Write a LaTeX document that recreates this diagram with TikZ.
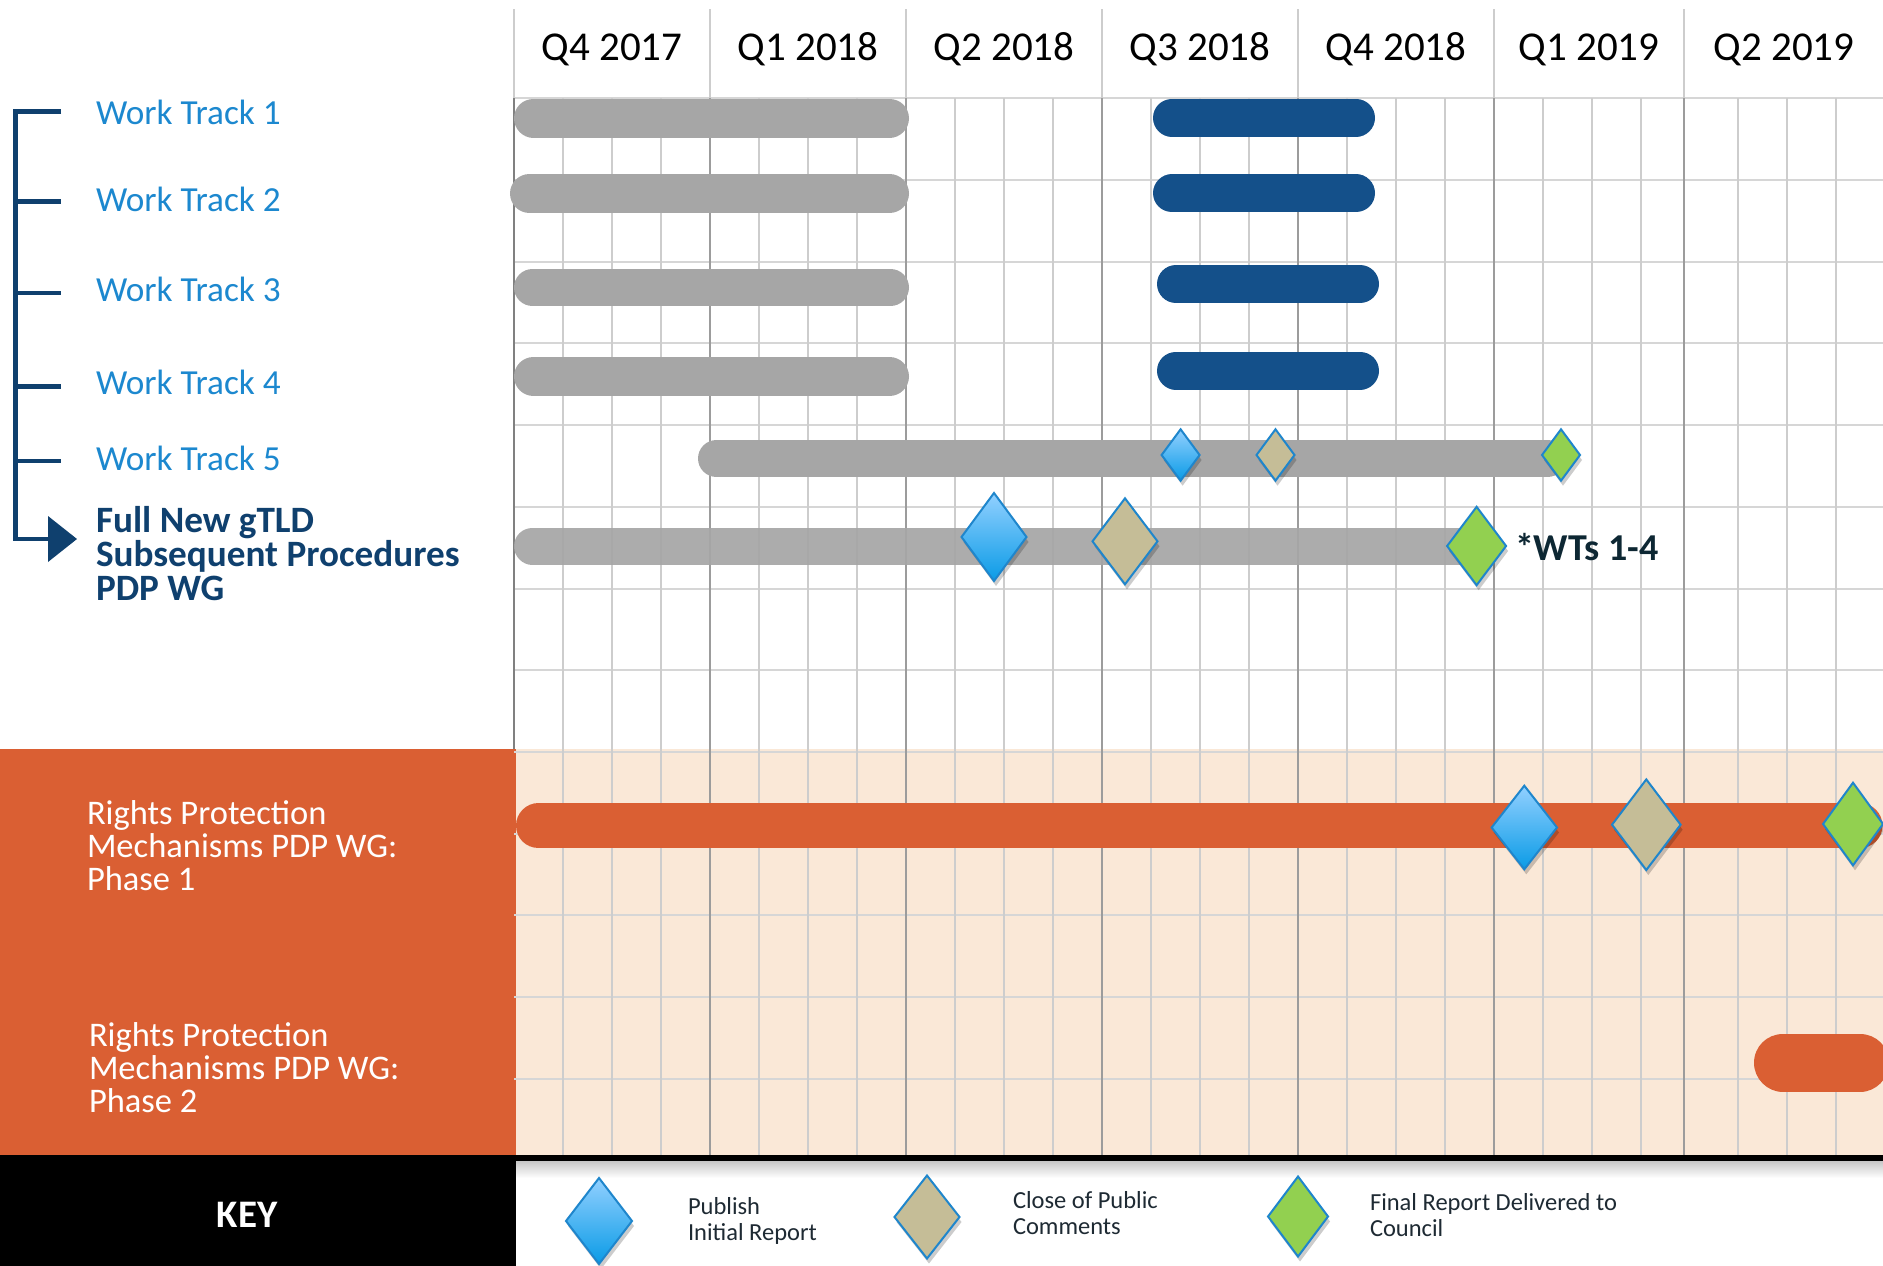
\documentclass[tikz,border=0pt]{standalone}
\usepackage{fontspec}
\setmainfont{Carlito}
\usetikzlibrary{calc}
\definecolor{wtblue}{HTML}{1C88CF}
\definecolor{darknavy}{HTML}{0F406E}
\definecolor{barnavy}{HTML}{14508A}
\definecolor{bargray}{HTML}{A6A6A6}
\definecolor{orng}{HTML}{DA5F33}
\definecolor{peach}{HTML}{FAE8D7}
\definecolor{gridh}{HTML}{D6D6D6}
\definecolor{grids}{HTML}{CDCDCD}
\definecolor{gridq}{HTML}{9C9C9C}
\definecolor{msedge}{HTML}{1F86CC}
\definecolor{msbluetop}{HTML}{92D0FF}
\definecolor{msbluebot}{HTML}{0A9BE6}
\definecolor{mstanc}{HTML}{C5BD97}
\definecolor{msgreenc}{HTML}{92D050}
\definecolor{keytext}{HTML}{1E2A33}
\definecolor{wtsdark}{HTML}{0D2733}
\newcommand\msd[5]{% x, y, half width, half height, style
  \fill[black,opacity=0.2] (#1+2,#2-#4+5) -- (#1+#3+2,#2+5) -- (#1+2,#2+#4+5) -- (#1-#3+2,#2+5) -- cycle;
  \path[#5] (#1,#2-#4) -- (#1+#3,#2) -- (#1,#2+#4) -- (#1-#3,#2) -- cycle;
}
\tikzset{
  every node/.style={inner sep=0pt, outer sep=0pt},
  qlab/.style={font=\fontsize{41}{48}\selectfont, anchor=base, text=black},
  wtlab/.style={font=\fontsize{35.2}{40}\selectfont, anchor=base west, text=wtblue},
  gtlab/.style={font=\fontsize{37.2}{33.6}\selectfont\bfseries, anchor=base west, align=left, text=darknavy},
  rpmlab/.style={font=\fontsize{34.5}{33}\selectfont, anchor=base west, align=left, text=white},
  keylab/.style={font=\fontsize{24.5}{25.8}\selectfont, anchor=base west, align=left, text=keytext},
  hline/.style={draw=gridh, line width=2},
  subline/.style={draw=grids, line width=1.5},
  qline/.style={draw=gridq, line width=1.8},
  hdrline/.style={draw=grids, line width=1.5},
  graybar/.style={draw=bargray, line cap=round},
  navybar/.style={draw=barnavy, line cap=round},
  orngbar/.style={draw=orng, line cap=round},
  bracketline/.style={draw=darknavy, line width=4.5},
  msblue/.style={top color=msbluetop, bottom color=msbluebot, draw=msedge, line width=2},
  mstan/.style={fill=mstanc, draw=msedge, line width=2},
  msgreen/.style={fill=msgreenc, draw=msedge, line width=2},
}
\begin{document}
\begin{tikzpicture}[x=1pt,y=-1pt]
\useasboundingbox (0,0) rectangle (1883,1266);
\fill[white] (0,0) rectangle (1883,1266);
% regions
\fill[peach] (514,749) rectangle (1883,1155);
\fill[orng] (0,749) rectangle (516,1155);
% grid
\foreach \k in {0,...,12} \draw[hline] (514,{98.3+81.7*\k}) -- (1883,{98.3+81.7*\k});
\foreach \xx in {563,612,661,759,808,857,955,1004,1053,1151,1200,1249,1347,1396,1445,1543,1592,1641,1738,1787,1836}
  \draw[subline] (\xx,98.3) -- (\xx,1155);
\foreach \xx in {710,906,1102,1298,1494,1684} {
  \draw[qline] (\xx,98.3) -- (\xx,1155);
  \draw[hdrline] (\xx,9) -- (\xx,98.3);
}
\draw[hdrline] (514,9) -- (514,98.3);
\draw[draw=gray, line width=2] (514,98.3) -- (514,749);
% quarter labels
\node[qlab] (q1) at (612,60) {Q4 2017};
\node[qlab] (q2) at (808,60) {Q1 2018};
\node[qlab] (q3) at (1004,60) {Q2 2018};
\node[qlab] (q4) at (1200,60) {Q3 2018};
\node[qlab] (q5) at (1396,60) {Q4 2018};
\node[qlab] (q6) at (1589,60) {Q1 2019};
\node[qlab] (q7) at (1784,60) {Q2 2019};
% gray bars
\draw[graybar, line width=39] (533.5,118) -- (889.5,118);
\draw[graybar, line width=39] (529.5,193.5) -- (889.5,193.5);
\draw[graybar, line width=37] (532.5,287.5) -- (890.5,287.5);
\draw[graybar, line width=39] (533.5,376.5) -- (889.5,376.5);
\draw[graybar, line width=37] (716.5,458.5) -- (1547.5,458.5);
\draw[graybar, line width=37, opacity=0.93] (532.5,546) -- (1471.5,546);
% navy bars
\draw[navybar, line width=38] (1172,117.7) -- (1356,117.7);
\draw[navybar, line width=38] (1172,193.3) -- (1356,193.3);
\draw[navybar, line width=38] (1176,284) -- (1360,284);
\draw[navybar, line width=38] (1176,370.5) -- (1360,370.5);
% orange bars
\draw[orngbar, line width=45] (538.5,825.8) -- (1860,825.8);
\draw[orngbar, line width=58] (1783,1062.5) -- (1860,1062.5);
% milestones
\msd{1180.6}{455}{19}{25.7}{msblue}
\msd{1275.5}{455}{19}{25.7}{mstan}
\msd{1561}{455}{19}{25.7}{msgreen}
\msd{994}{537}{32.5}{44}{msblue}
\msd{1125}{541.3}{32.5}{43}{mstan}
\msd{1476.6}{546}{29.5}{39.2}{msgreen}
\msd{1524.3}{827.5}{32.7}{41.8}{msblue}
\msd{1646.3}{824.7}{34.3}{45.3}{mstan}
\msd{1853}{824}{30}{41.3}{msgreen}
\node[font=\fontsize{38}{40}\selectfont\bfseries, anchor=base west, text=wtsdark] (wts) at (1515,560.7) {*WTs 1-4};
% bracket
\draw[bracketline] (61,111.7) -- (15.6,111.7) -- (15.6,539) -- (52,539);
\foreach \yy in {201.7,293,386.7,461} \draw[bracketline] (15.6,\yy) -- (61,\yy);
\fill[darknavy] (48,516) -- (77,539) -- (48,562) -- cycle;
% work track labels
\node[wtlab] (wt1) at (96,124) {Work Track 1};
\node[wtlab] (wt2) at (96,211.3) {Work Track 2};
\node[wtlab] (wt3) at (96,301.3) {Work Track 3};
\node[wtlab] (wt4) at (96,394.8) {Work Track 4};
\node[wtlab] (wt5) at (96,470.7) {Work Track 5};
\node[gtlab] (gt) at (96,600) {Full New gTLD\\Subsequent Procedures\\PDP WG};
% RPM labels
\node[rpmlab] (ra) at (87,890.7) {Rights Protection\\Mechanisms PDP WG:\\Phase 1};
\node[rpmlab] (rb) at (89,1112.7) {Rights Protection\\Mechanisms PDP WG:\\Phase 2};
% key
\fill[black] (0,1155) rectangle (516,1266);
\fill[black] (516,1155) rectangle (1883,1161);
\shade[top color=black!22, bottom color=white] (516,1161) rectangle (1883,1178);
\node[font=\fontsize{39}{44}\selectfont\bfseries, text=white, anchor=base] (key) at (247,1227) {KEY};
\msd{599}{1221}{33}{43}{msblue}
\msd{927}{1217}{32.5}{41.5}{mstan}
\msd{1298}{1216.5}{30}{40}{msgreen}
\node[keylab] (k1) at (688,1240) {Publish\\Initial Report};
\node[keylab] (k2) at (1013,1234) {Close of Public\\Comments};
\node[keylab] (k3) at (1370,1236) {Final Report Delivered to\\Council};
\end{tikzpicture}
\end{document}
